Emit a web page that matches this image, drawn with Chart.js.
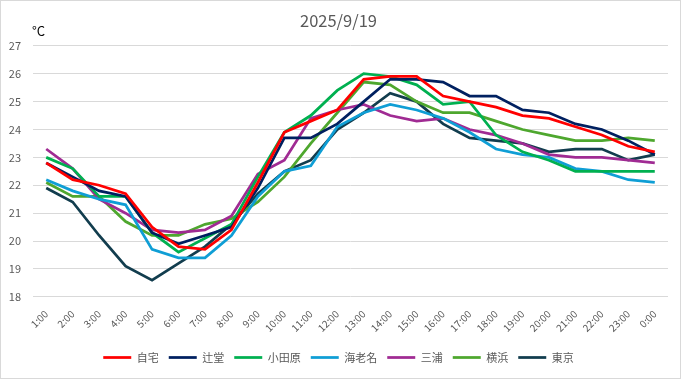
<!DOCTYPE html>
<html>
<head>
<meta charset="utf-8">
<script src="https://cdn.jsdelivr.net/npm/chart.js@4"></script>
<style>
  body { margin: 0; background: #fff; }
  .wrap { width: 681px; height: 379px; box-sizing: border-box; border: 1px solid #d9d9d9; position: relative; }
</style>
</head>
<body>
<div class="wrap"><canvas id="c"></canvas></div>
<script>
const hours = ['1:00','2:00','3:00','4:00','5:00','6:00','7:00','8:00','9:00','10:00','11:00','12:00',
               '13:00','14:00','15:00','16:00','17:00','18:00','19:00','20:00','21:00','22:00','23:00','0:00'];

const jitaku   = [22.8, 22.2, 22.0, 21.7, 20.5, 19.8, 19.7, 20.4, 22.1, 23.9, 24.3, 24.7, 25.8, 25.9, 25.9, 25.2, 25.0, 24.8, 24.5, 24.4, 24.1, 23.8, 23.4, 23.2];
const tsujido  = [22.8, 22.3, 21.8, 21.6, 20.3, 19.9, 20.2, 20.5, 21.9, 23.7, 23.7, 24.2, 25.0, 25.8, 25.8, 25.7, 25.2, 25.2, 24.7, 24.6, 24.2, 24.0, 23.6, 23.1];
const odawara  = [23.0, 22.6, 21.6, 21.6, 20.3, 19.6, 20.1, 20.6, 22.3, 23.9, 24.5, 25.4, 26.0, 25.9, 25.6, 24.9, 25.0, 23.8, 23.2, 22.9, 22.5, 22.5, 22.5, 22.5];
const ebina    = [22.2, 21.8, 21.5, 21.3, 19.7, 19.4, 19.4, 20.2, 21.6, 22.5, 22.7, 24.1, 24.6, 24.9, 24.7, 24.4, 23.9, 23.3, 23.1, 23.0, 22.6, 22.5, 22.2, 22.1];
const miura    = [23.3, 22.6, 21.5, 21.0, 20.4, 20.3, 20.4, 20.9, 22.4, 22.9, 24.4, 24.7, 24.9, 24.5, 24.3, 24.4, 24.0, 23.8, 23.5, 23.1, 23.0, 23.0, 22.9, 22.8];
const yokohama = [22.1, 21.6, 21.6, 20.7, 20.2, 20.2, 20.6, 20.8, 21.4, 22.3, 23.5, 24.6, 25.7, 25.6, 25.0, 24.6, 24.6, 24.3, 24.0, 23.8, 23.6, 23.6, 23.7, 23.6];
const tokyo    = [21.9, 21.4, 20.2, 19.1, 18.6, 19.2, 19.8, 20.6, 21.7, 22.5, 22.9, 24.0, 24.6, 25.3, 25.0, 24.2, 23.7, 23.6, 23.5, 23.2, 23.3, 23.3, 22.9, 23.1];

const FONT = "'Noto Sans CJK JP', 'Noto Sans', sans-serif";
const grey = '#595959';

function series(label, data, color) {
  return { label, data, borderColor: color, backgroundColor: color, borderWidth: 2.75,
           pointRadius: 0, tension: 0, fill: false };
}

// draws the unit label above the y axis
const unitLabel = {
  id: 'unitLabel',
  afterDraw(chart) {
    const { ctx, chartArea } = chart;
    ctx.save();
    ctx.font = '13px ' + FONT;
    ctx.fillStyle = '#000';
    ctx.textBaseline = 'bottom';
    ctx.fillText('°C', 31, chartArea.top - 8);
    ctx.restore();
  }
};

new Chart(document.getElementById('c'), {
  type: 'line',
  data: {
    labels: hours,
    datasets: [
      series('自宅', jitaku, '#FF0000'),
      series('辻堂', tsujido, '#002060'),
      series('小田原', odawara, '#00B050'),
      series('海老名', ebina, '#0F9ED5'),
      series('三浦', miura, '#A02B93'),
      series('横浜', yokohama, '#4EA72E'),
      series('東京', tokyo, '#123D4E')
    ]
  },
  options: {
    responsive: true,
    maintainAspectRatio: false,
    animation: false,
    layout: { padding: { left: 8, right: 12, top: 4, bottom: 5 } },
    plugins: {
      title: {
        display: true, text: '2025/9/19', color: grey,
        font: { family: FONT, size: 16.5, weight: 'normal' },
        padding: { top: 6, bottom: 15 }
      },
      legend: {
        position: 'bottom',
        labels: {
          color: grey, font: { family: FONT, size: 11 },
          usePointStyle: true, pointStyle: 'line', pointStyleWidth: 28, padding: 10
        }
      },
      tooltip: { enabled: false }
    },
    scales: {
      x: {
        offset: true,
        grid: { display: false },
        border: { display: false },
        ticks: { color: grey, font: { family: FONT, size: 10 }, maxRotation: 45, minRotation: 45, autoSkip: false },
        afterFit(scale) {
          scale.paddingLeft = 0;
          scale.paddingRight = 0;
          scale.height += 5;
        }
      },
      y: {
        min: 18, max: 27,
        grid: { color: '#d9d9d9', drawTicks: false },
        border: { display: false },
        ticks: { stepSize: 1, color: grey, font: { family: FONT, size: 11 }, padding: 12 },
        afterFit(scale) { scale.width = 24; }
      }
    }
  },
  plugins: [unitLabel]
});
</script>
</body>
</html>
